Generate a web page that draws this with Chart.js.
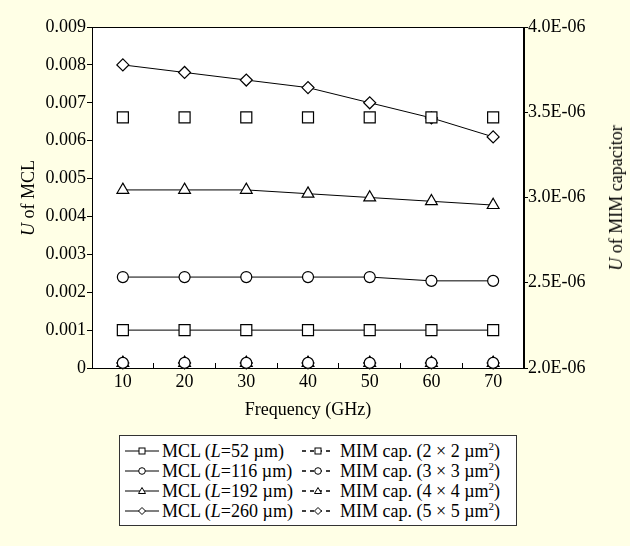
<!DOCTYPE html>
<html>
<head>
<meta charset="utf-8">
<script src="https://cdn.jsdelivr.net/npm/chart.js@4"></script>
<style>
  html, body { margin: 0; padding: 0; background: #ffffe6; }
  #wrap { position: relative; width: 630px; height: 546px; background: #ffffe6;
          font-family: 'Liberation Serif', 'Times New Roman', serif; color: #000; }
  #chart { position: absolute; left: 0; top: 0; }
  .ytitle { position: absolute; font-size: 18px; white-space: nowrap; line-height: 20px;
            transform: translate(-50%, -50%) rotate(-90deg); }
  #legend { position: absolute; left: 119px; top: 435px; width: 396px; height: 89px;
            background: #fff; border: 1px solid #333; box-sizing: content-box; font-size: 18px; }
  .row { position: absolute; height: 20px; line-height: 20px; white-space: nowrap; }
  .row svg { position: absolute; left: 0; top: 4px; }
  .row span { position: absolute; top: 0; }
  sup { font-size: 11px; line-height: 0; vertical-align: 7px; }
</style>
</head>
<body>
<div id="wrap">
  <canvas id="chart" width="630" height="430"></canvas>
  <div class="ytitle" style="left:28px; top:198px;"><i>U</i> of MCL</div>
  <div class="ytitle" style="left:616px; top:198px;"><i>U</i> of MIM capacitor</div>
  <div id="legend"></div>
</div>
<script>
// category labels (GHz)
var freqs = ['10', '20', '30', '40', '50', '60', '70'];

// U of MCL (left axis)
var mcl52  = [0.001, 0.001, 0.001, 0.001, 0.001, 0.001, 0.001];
var mcl116 = [0.0024, 0.0024, 0.0024, 0.0024, 0.0024, 0.0023, 0.0023];
var mcl192 = [0.0047, 0.0047, 0.0047, 0.0046, 0.0045, 0.0044, 0.0043];
var mcl260 = [0.0080, 0.0078, 0.0076, 0.0074, 0.0070, 0.0066, 0.0061];

// U of MIM capacitor (right axis)
var mim2 = [3.47e-6, 3.47e-6, 3.47e-6, 3.47e-6, 3.47e-6, 3.47e-6, 3.47e-6];
var mim3 = [2.03e-6, 2.03e-6, 2.03e-6, 2.03e-6, 2.03e-6, 2.03e-6, 2.03e-6];
var mim4 = [2.03e-6, 2.03e-6, 2.03e-6, 2.03e-6, 2.03e-6, 2.03e-6, 2.03e-6];
var mim5 = [2.03e-6, 2.03e-6, 2.03e-6, 2.03e-6, 2.03e-6, 2.03e-6, 2.03e-6];

var mclNames = ['52', '116', '192', '260'];
var mimNames = ['2 × 2', '3 × 3', '4 × 4', '5 × 5'];
var styles = ['rect', 'circle', 'triangle', 'rectRot'];
var radii = [7.8, 5.5, 6.8, 6];

var FONT = "'Liberation Serif', 'Times New Roman', serif";

function mclSet(i, data) {
    return { label: 'MCL (L=' + mclNames[i] + ' µm)', data: data, yAxisID: 'y', order: 1,
             borderColor: '#000', borderWidth: 1, pointStyle: styles[i], pointRadius: radii[i],
             pointBackgroundColor: '#fff', pointBorderColor: '#000', pointBorderWidth: 1.2, clip: false };
}
function mimSet(i, data) {
    return { label: 'MIM cap. (' + mimNames[i] + ' µm2)', data: data, yAxisID: 'y1', order: 0,
             showLine: false, borderColor: '#000', borderDash: [4, 4], pointStyle: styles[i], pointRadius: radii[i],
             pointBackgroundColor: '#fff', pointBorderColor: '#000', pointBorderWidth: 1.2, clip: false };
}

var frame = {
    id: 'frame',
    beforeDraw: function(c) {
        var a = c.chartArea, ctx = c.ctx;
        ctx.save(); ctx.fillStyle = '#fff';
        ctx.fillRect(a.left, a.top, a.right - a.left, a.bottom - a.top); ctx.restore();
    },
    beforeDatasetsDraw: function(c) {
        var a = c.chartArea, ctx = c.ctx;
        ctx.save(); ctx.strokeStyle = '#000'; ctx.lineWidth = 1;
        ctx.strokeRect(Math.round(a.left) + 0.5, Math.round(a.top) + 0.5, Math.round(a.right - a.left) - 1, Math.round(a.bottom - a.top));
        ctx.restore();
    }
};

var chart = new Chart(document.getElementById('chart').getContext('2d'), {
    type: 'line',
    data: {
        labels: freqs,
        datasets: [mclSet(0, mcl52), mclSet(1, mcl116), mclSet(2, mcl192), mclSet(3, mcl260),
                   mimSet(0, mim2), mimSet(1, mim3), mimSet(2, mim4), mimSet(3, mim5)]
    },
    options: {
        responsive: false, animation: false, devicePixelRatio: 1,
        layout: { padding: { top: 27, left: 0, right: 0, bottom: 0 } },
        plugins: { legend: { display: false }, tooltip: { enabled: false } },
        scales: {
            x: {
                offset: true,
                grid: { offset: true, drawOnChartArea: false, tickLength: -5, color: '#000' },
                border: { color: '#000', width: 1 },
                ticks: { color: '#000', padding: 8, font: { family: FONT, size: 18 } },
                title: { display: true, text: 'Frequency (GHz)', color: '#000', padding: { bottom: 9 },
                         font: { family: FONT, size: 18 } },
                afterFit: function(s) { s.height = 62; }
            },
            y: {
                position: 'left', min: 0, max: 0.009,
                grid: { drawOnChartArea: false, tickLength: 5, color: '#000' },
                border: { color: '#000', width: 1 },
                ticks: { stepSize: 0.001, color: '#000', padding: 1, font: { family: FONT, size: 18 },
                         callback: function(v) { return v === 0 ? '0' : v.toFixed(3); } },
                afterFit: function(s) { s.width = 92; }
            },
            y1: {
                position: 'right', min: 2e-6, max: 4e-6,
                grid: { drawOnChartArea: false, tickLength: 4, color: '#000' },
                border: { color: '#000', width: 1 },
                ticks: { stepSize: 5e-7, color: '#000', padding: 0, font: { family: FONT, size: 18 },
                         callback: function(v) { return (v * 1e6).toFixed(1) + 'E-06'; } },
                afterFit: function(s) { s.width = 106; }
            }
        }
    },
    plugins: [frame]
});

// legend built as html so the italic L and superscript 2 stay real text
function icon(style, dashed) {
    var m = '';
    if (style === 'rect') m = '<rect x="14" y="3" width="6" height="6" fill="#fff" stroke="#000" stroke-width="1"/>';
    if (style === 'circle') m = '<circle cx="17" cy="6" r="3.3" fill="#fff" stroke="#000" stroke-width="1"/>';
    if (style === 'triangle') m = '<path d="M17 2.5 L20.5 8.5 L13.5 8.5 Z" fill="#fff" stroke="#000" stroke-width="1"/>';
    if (style === 'rectRot') m = '<path d="M17 2.5 L20.5 6 L17 9.5 L13.5 6 Z" fill="#fff" stroke="#000" stroke-width="1"/>';
    var line = dashed
        ? '<line x1="1" y1="6" x2="33" y2="6" stroke="#000" stroke-width="1.3" stroke-dasharray="4 4"/>'
        : '<line x1="0" y1="6" x2="34" y2="6" stroke="#000" stroke-width="1.2"/>';
    return '<svg width="34" height="12">' + line + m + '</svg>';
}
var html = '';
for (var i = 0; i < 4; i++) {
    var rowTop = 5 + i * 20;
    html += '<div class="row" style="left:5px; top:' + rowTop + 'px;">' + icon(styles[i], false) +
            '<span style="left:37px;">MCL (<i>L</i>=' + mclNames[i] + ' µm)</span></div>';
    html += '<div class="row" style="left:181px; top:' + rowTop + 'px;">' + icon(styles[i], true) +
            '<span style="left:39px;">MIM cap. (' + mimNames[i] + ' µm<sup>2</sup>)</span></div>';
}
document.getElementById('legend').innerHTML = html;
</script>
</body>
</html>
